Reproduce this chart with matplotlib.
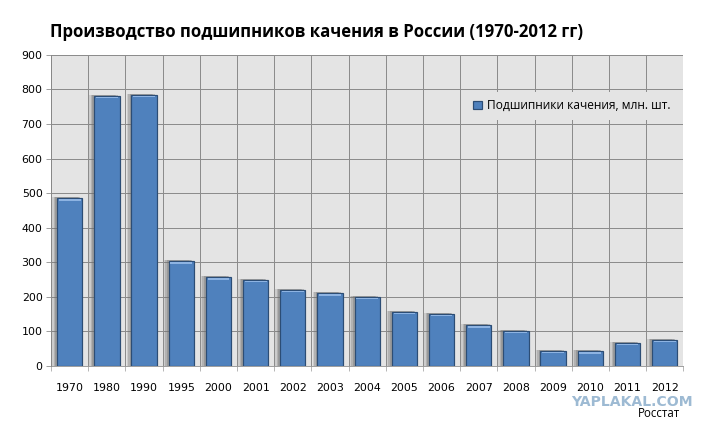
import numpy as np
import matplotlib.pyplot as plt

# data
years = ['1970', '1980', '1990', '1995', '2000', '2001', '2002', '2003', '2004',
         '2005', '2006', '2007', '2008', '2009', '2010', '2011', '2012']
output = [485, 782, 785, 303, 257, 249, 220, 210, 200,
          157, 150, 118, 102, 44, 42, 67, 76]
series_name = 'Подшипники качения, млн. шт.'
title = 'Производство подшипников качения в России (1970-2012 гг)'

fig = plt.figure(figsize=(10, 6), dpi=72)
ax = fig.add_axes([0.071, 0.153, 0.878, 0.72])
ax.set_facecolor('#e4e4e4')

x = np.arange(len(years))
w = 0.68

# soft shadow behind bars
for dx, a in [(-0.13, 0.2), (-0.09, 0.28), (-0.05, 0.35)]:
    ax.bar(x + dx, np.array(output) + 3, width=w, color='#707070', alpha=a,
           zorder=2, linewidth=0)
ax.bar(x, output, width=w, color='#4f81bd', edgecolor='#2c4d75',
       linewidth=1.2, zorder=3, label=series_name)
# light band on top of each bar
ax.bar(x, [4] * len(x), bottom=np.array(output) - 7, width=w * 0.86,
       color='#8db3e2', zorder=4, linewidth=0)

ax.set_xlim(-0.5, len(years) - 0.5)
ax.set_ylim(0, 900)
ax.set_yticks(range(0, 901, 100))
ax.set_xticks(x)
ax.set_xticklabels(years)
ax.set_xticks(np.arange(-0.5, len(years), 1), minor=True)
ax.tick_params(axis='x', which='major', length=0, pad=17, labelsize=11)
ax.tick_params(axis='x', which='minor', length=5, color='#888888')
ax.tick_params(axis='y', length=5, color='#888888', labelsize=11)

ax.grid(axis='y', color='#8c8c8c', linewidth=1, zorder=1)
ax.grid(axis='x', which='minor', color='#8c8c8c', linewidth=1, zorder=1)
ax.set_axisbelow(True)
for s in ['top', 'right']:
    ax.spines[s].set_visible(False)
ax.spines['left'].set_color('#888888')
ax.spines['bottom'].set_color('#888888')

leg = ax.legend(loc='upper right', bbox_to_anchor=(1.0, 0.9), frameon=True,
                fancybox=False, handlelength=0.7, handleheight=0.7,
                handletextpad=0.4, borderpad=0.6,
                prop={'family': 'Open Sans', 'size': 12})
leg.get_frame().set_facecolor('#e4e4e4')
leg.get_frame().set_edgecolor('#e4e4e4')
leg.get_frame().set_alpha(1)

fig.text(0.069, 0.925, title, fontsize=16.8, fontweight='bold', family='Open Sans',
         va='center', ha='left')
fig.text(0.962, 0.07, 'YAPLAKAL.COM', fontsize=14, fontweight='bold',
         color='#9dbad3', ha='right', va='center', family='DejaVu Sans')
fig.text(0.944, 0.042, 'Росстат', fontsize=11.5, family='Open Sans',
         ha='right', va='center')

fig.savefig('out.png', dpi=72)
